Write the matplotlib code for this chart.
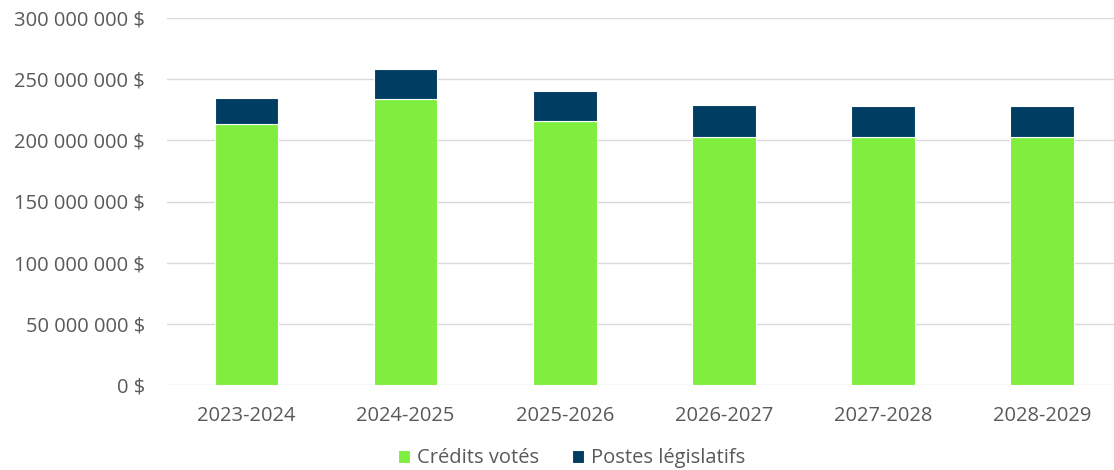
import matplotlib.pyplot as plt
import numpy as np
from matplotlib.ticker import FuncFormatter

# Exercices financiers
annees = ['2023-2024', '2024-2025', '2025-2026', '2026-2027', '2027-2028', '2028-2029']
credits_votes = [213.3e6, 233.5e6, 215.5e6, 203.0e6, 202.5e6, 202.5e6]
postes_legislatifs = [21.3e6, 25.0e6, 24.8e6, 25.8e6, 25.5e6, 25.5e6]

vert = '#80EE3E'
marine = '#003D62'
gris = '#595959'

plt.rcParams['font.family'] = ['Open Sans', 'DejaVu Sans']

fig = plt.figure(figsize=(11.14, 4.70), dpi=100)
ax = fig.add_axes([167/1114, 85/470, 947/1114, 367/470])

x = np.arange(len(annees))
ax.bar(x, credits_votes, 0.4, color=vert, edgecolor='white', linewidth=0.8,
       label='Crédits votés', zorder=3)
ax.bar(x, postes_legislatifs, 0.4, bottom=credits_votes, color=marine,
       edgecolor='white', linewidth=0.8, label='Postes législatifs', zorder=3)

ax.set_xlim(-0.5, 5.5 - 7.5/159)
ax.set_ylim(0, 300e6)
ax.set_yticks(np.arange(0, 300e6 + 1, 50e6))

def fmt(v, pos):
    s = f'{int(round(v)):,}'.replace(',', ' ')
    return s + ' $'

ax.yaxis.set_major_formatter(FuncFormatter(fmt))
ax.set_xticks(x)
ax.set_xticklabels(annees)

ax.grid(axis='y', color='#d9d9d9', linewidth=1, zorder=0)
for s in ax.spines.values():
    s.set_visible(False)
ax.tick_params(axis='both', length=0, labelsize=14.5, colors=gris)
ax.tick_params(axis='x', pad=15)
ax.tick_params(axis='y', pad=16)

leg = fig.legend(loc='center', bbox_to_anchor=(0.513, 0.025), ncol=2, frameon=False,
                 fontsize=14.5, handlelength=0.6, handleheight=0.6, handletextpad=0.35,
                 columnspacing=1.6)
for t in leg.get_texts():
    t.set_color(gris)

fig.savefig('out.png', dpi=100)
